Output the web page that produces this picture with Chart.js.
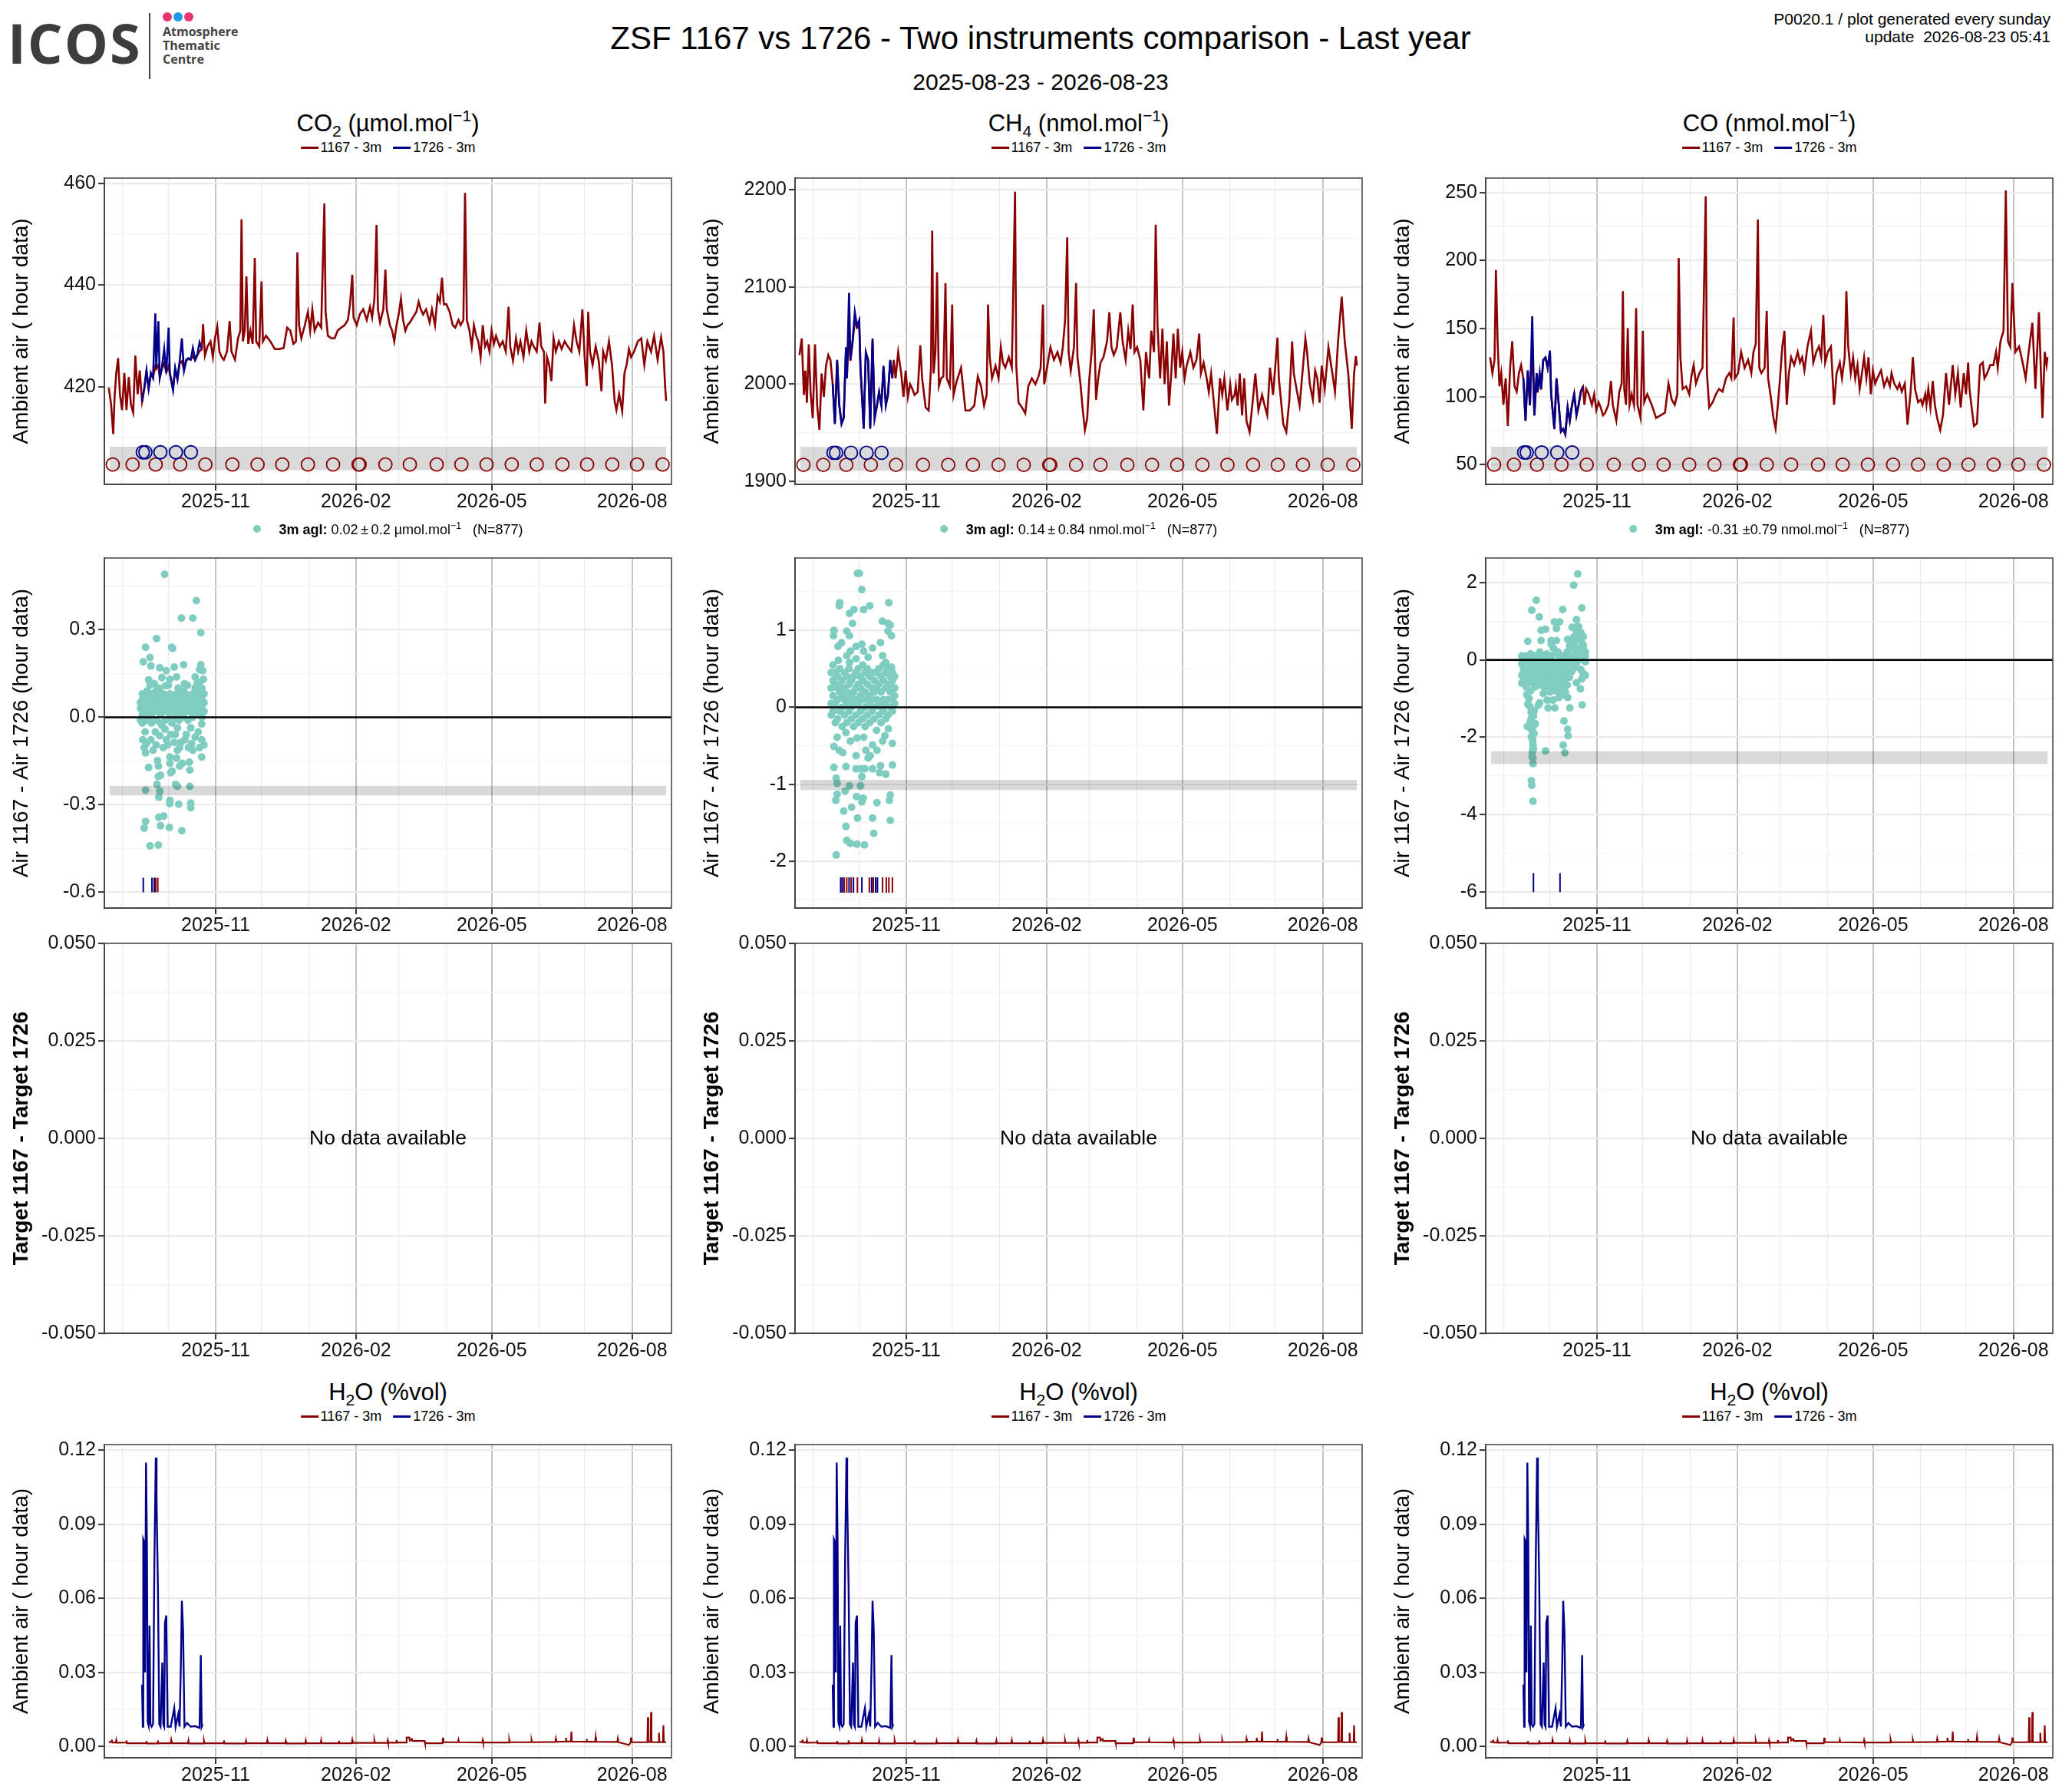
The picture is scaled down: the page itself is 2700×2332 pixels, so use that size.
<!DOCTYPE html>
<html><head><meta charset="utf-8"><title>ZSF 1167 vs 1726 - Two instruments comparison</title>
<script src="https://cdn.jsdelivr.net/npm/chart.js@4.4.1/dist/chart.umd.min.js"></script>
<style>
html,body{margin:0;padding:0;background:#fff}
body{width:2700px;height:2332px;position:relative;overflow:hidden;font-family:'Liberation Sans',Arial,Helvetica,sans-serif;color:#000}
.t{position:absolute;white-space:nowrap;transform:translate(-50%,-50%);line-height:1}
canvas{position:absolute}
sub,sup{font-size:68%;line-height:0;position:relative;vertical-align:baseline}
sub{top:0.32em} sup{top:-0.6em}
.key{display:inline-block;width:23px;height:3px;vertical-align:middle;margin-right:3px;position:relative;top:-1px}
.dot{display:inline-block;width:10px;height:10px;border-radius:50%;background:rgb(127,205,193);margin-right:24px;vertical-align:middle;position:relative;top:-2px}
</style></head><body>

<div style="position:absolute;left:10px;top:19px;font-family:'Open Sans',sans-serif;font-weight:700;font-size:72px;line-height:1;color:#3d3d3d;letter-spacing:2px">ICOS</div>
<div style="position:absolute;left:194px;top:17px;width:2px;height:86px;background:#444"></div>
<div style="position:absolute;left:212px;top:16px;width:12px;height:12px;border-radius:50%;background:#e8356d"></div>
<div style="position:absolute;left:226px;top:16px;width:12px;height:12px;border-radius:50%;background:#1e9be9"></div>
<div style="position:absolute;left:240px;top:16px;width:12px;height:12px;border-radius:50%;background:#e8356d"></div>
<div style="position:absolute;left:212px;top:32px;font-family:'Open Sans',sans-serif;font-weight:700;font-size:16px;line-height:18px;color:#444">Atmosphere<br>Thematic<br>Centre</div>

<div class="t" style="left:1356px;top:50px;font-size:42px">ZSF 1167 vs 1726 - Two instruments comparison - Last year</div>
<div class="t" style="left:1356px;top:107px;font-size:30px">2025-08-23 - 2026-08-23</div>
<div style="position:absolute;right:28px;top:13px;font-size:21px;line-height:23px;text-align:right">P0020.1 / plot generated every sunday<br>update&nbsp; 2026-08-23 05:41</div>

<script>
// ---------------- DATA ----------------
// time axis: days since 2025-08-23 (day 0)
const X_TICK_DAYS   = [9, 39, 70, 100, 131, 162, 190, 221, 251, 282, 312, 343];
const X_TICK_LABELS = ['', '', '2025-11', '', '', '2026-02', '', '', '2026-05', '', '', '2026-08'];

const DAYS_1167 = [
 0.0, 1.5, 2.9, 3.8, 4.9, 6.1, 7.3, 8.7, 10.2, 11.6,
 13.1, 14.5, 16.0, 17.4, 18.9, 20.3, 21.8, 23.2, 24.7, 26.1,
 27.6, 29.0, 30.5, 31.1, 32.5, 33.4, 34.8, 36.3, 37.7, 39.2,
 40.0, 42.1, 43.5, 45.0, 46.4, 47.9, 49.3, 50.8, 52.2, 53.7,
 55.1, 56.6, 58.0, 59.5, 60.9, 61.8, 63.0, 64.7, 66.7, 68.2,
 69.6, 71.1, 72.5, 74.0, 75.4, 77.5, 79.2, 80.4, 82.7, 84.7,
 86.2, 87.0, 87.9, 89.1, 90.2, 91.4, 92.8, 94.3, 95.7, 96.6,
 98.6, 100.1, 101.0, 103.0, 105.9, 108.8, 111.7, 114.6, 116.9, 119.0,
 121.0, 122.7, 123.6, 124.7, 126.2, 128.5, 130.5, 132.0, 133.4, 134.9,
 137.2, 139.2, 141.3, 142.1, 143.6, 145.9, 148.0, 150.0, 152.3, 154.6,
 156.7, 158.1, 159.6, 160.4, 162.5, 164.5, 166.8, 169.1, 171.2, 172.6,
 174.1, 175.5, 176.4, 177.8, 179.9, 181.3, 182.2, 184.2, 185.7, 187.1,
 188.6, 190.0, 191.5, 192.9, 194.4, 195.8, 197.3, 199.3, 201.6, 203.1,
 204.5, 206.0, 208.0, 210.3, 211.8, 213.8, 215.5, 217.0, 218.4, 219.6,
 221.3, 223.4, 225.4, 227.1, 229.2, 230.6, 232.4, 233.5, 234.7, 236.4,
 237.9, 239.3, 240.8, 242.2, 243.7, 245.1, 246.6, 248.0, 249.5, 250.9,
 252.4, 253.8, 256.2, 258.2, 260.2, 262.0, 263.1, 264.9, 266.9, 268.3,
 269.8, 271.8, 273.6, 275.6, 277.1, 278.5, 280.5, 282.3, 283.4, 285.2,
 286.0, 287.2, 288.6, 290.1, 291.5, 293.0, 295.0, 296.8, 298.8, 300.8,
 303.2, 304.9, 306.6, 308.4, 310.4, 311.9, 313.3, 314.2, 315.4, 317.1,
 319.1, 321.1, 322.9, 324.0, 325.8, 327.8, 329.8, 331.6, 332.7, 334.5,
 336.5, 338.0, 339.4, 340.9, 342.3, 344.3, 346.7, 349.0, 351.0, 353.0,
 355.4, 357.4, 359.7, 362.0, 363.5, 364.7, 365.3
];
const CO2_1167 = [
 419.8, 416.5, 410.7, 418.0, 422.7, 425.6, 418.5, 415.4, 422.7, 415.4,
 421.9, 416.5, 414.9, 426.1, 418.5, 423.2, 417.1, 419.5, 423.0, 419.8,
 422.5, 421.8, 424.0, 423.5, 424.2, 421.9, 423.5, 424.6, 422.8, 424.1,
 422.5, 419.6, 423.5, 421.6, 424.6, 425.0, 423.3, 425.1, 425.5, 425.3,
 426.0, 425.2, 426.2, 427.0, 427.3, 432.3, 426.1, 427.9, 428.9, 425.8,
 429.5, 431.8, 426.9, 425.8, 425.3, 426.9, 432.9, 426.9, 425.3, 429.5,
 431.0, 452.9, 428.9, 431.0, 441.7, 428.4, 431.0, 428.4, 445.3, 428.9,
 427.9, 440.7, 428.9, 430.0, 428.9, 427.4, 427.4, 427.6, 431.6, 431.0,
 428.4, 428.9, 446.4, 432.1, 429.5, 432.1, 434.7, 431.0, 435.2, 431.0,
 432.6, 431.6, 456.0, 434.7, 430.0, 429.5, 429.5, 431.0, 431.6, 432.1,
 433.1, 436.2, 442.0, 433.6, 432.1, 434.2, 435.2, 433.1, 435.7, 433.6,
 437.3, 451.8, 435.2, 432.6, 435.2, 443.0, 435.2, 432.1, 431.0, 428.9,
 432.1, 434.2, 437.3, 433.1, 431.0, 432.1, 432.6, 433.6, 434.7, 436.7,
 435.2, 434.2, 435.2, 432.6, 435.2, 432.1, 437.8, 436.7, 441.4, 436.2,
 436.2, 434.7, 432.1, 431.6, 433.1, 432.1, 433.1, 458.1, 433.1, 431.0,
 427.9, 432.1, 430.0, 428.9, 425.8, 432.1, 427.9, 428.9, 426.9, 431.0,
 428.4, 430.0, 427.9, 428.9, 426.9, 435.7, 427.9, 425.1, 429.5, 426.9,
 428.9, 425.8, 431.0, 426.9, 428.9, 427.9, 426.9, 432.6, 427.9, 426.9,
 416.7, 425.8, 424.3, 421.1, 429.5, 426.9, 428.9, 427.4, 428.9, 427.9,
 426.9, 432.1, 428.9, 426.9, 435.2, 425.8, 420.1, 434.7, 426.9, 424.3,
 427.9, 425.1, 419.1, 426.9, 425.1, 428.9, 424.3, 417.0, 415.4, 418.5,
 415.2, 422.7, 424.3, 427.4, 425.8, 426.9, 428.9, 429.5, 424.3, 428.9,
 426.9, 430.0, 425.3, 429.7, 426.9, 419.8, 417.2
];
const CH4_1167 = [
 2030, 2047, 1989, 2014, 1981, 2041, 1992, 1965, 2041, 1978,
 1953, 2011, 1987, 2019, 2030, 2025, 2000, 1960, 2024, 1979,
 1960, 1966, 2037, 2006, 2060, 2024, 2043, 2066, 2058, 2060,
 2017, 1956, 2032, 2025, 1956, 2045, 1966, 1978, 1992, 1979,
 2018, 1979, 1989, 2024, 2006, 2025, 2006, 2033, 2011, 1987,
 2014, 1987, 2000, 1995, 1989, 1992, 2040, 2006, 1976, 1973,
 2017, 2158, 2011, 2033, 2115, 1998, 2006, 2008, 2104, 2006,
 1998, 2082, 1989, 2003, 2017, 1973, 1973, 1978, 2008, 1998,
 1978, 1989, 2082, 2028, 2006, 2019, 2006, 2038, 2022, 2017,
 2028, 2017, 2198, 2019, 1981, 1976, 1970, 1998, 2006, 2000,
 2008, 2017, 2082, 2000, 2019, 2038, 2025, 2033, 2022, 2038,
 2066, 2151, 2033, 2014, 2038, 2104, 2028, 2000, 1973, 1953,
 1965, 2006, 2033, 2077, 1984, 2006, 2022, 2028, 2044, 2074,
 2038, 2030, 2038, 2074, 2044, 2025, 2055, 2036, 2082, 2033,
 2038, 2025, 1973, 2033, 2006, 2055, 2033, 2164, 2060, 2006,
 2057, 2000, 2044, 1978, 2011, 2052, 2006, 2057, 2017, 2033,
 2006, 2019, 2033, 2017, 2025, 2052, 2011, 2022, 2006, 1992,
 2011, 1978, 1949, 2006, 1989, 2006, 1973, 2000, 1984, 1989,
 1998, 1978, 2011, 1968, 2006, 1962, 1951, 1978, 2011, 1973,
 1989, 1978, 1968, 2017, 1989, 2019, 2048, 2006, 1987, 1959,
 1951, 1984, 2044, 2011, 1995, 1978, 2014, 2047, 2033, 2000,
 1984, 2014, 2006, 1981, 2019, 1995, 2038, 2014, 1992, 2044,
 2090, 2044, 2011, 1954, 2011, 2029, 2019
];
const CO_1167 = [
 128.9, 117.2, 127.0, 193.0, 140.6, 107.5, 117.2, 93.9, 113.4, 78.4,
 121.1, 140.6, 107.5, 103.6, 117.2, 123.1, 113.0, 82.0, 119.0, 93.5,
 140.0, 86.0, 117.0, 103.0, 117.0, 105.0, 126.5, 128.5, 121.0, 133.0,
 101.5, 76.0, 113.0, 93.5, 74.0, 76.0, 72.0, 92.0, 82.0, 94.0,
 102.0, 86.5, 94.0, 104.0, 107.0, 93.9, 105.6, 101.7, 93.9, 101.7,
 90.0, 95.9, 92.0, 86.2, 88.1, 93.9, 111.4, 93.9, 82.3, 103.6,
 109.5, 177.5, 105.6, 93.9, 150.3, 93.9, 101.7, 93.9, 164.9, 93.9,
 84.2, 148.3, 95.9, 101.7, 93.9, 84.2, 86.2, 88.1, 109.5, 97.8,
 93.9, 101.7, 201.8, 128.9, 105.6, 107.5, 101.7, 115.3, 123.1, 109.5,
 117.2, 121.1, 247.1, 117.2, 92.0, 95.9, 101.7, 105.6, 103.6, 113.4,
 117.2, 113.4, 158.1, 113.4, 117.2, 132.8, 121.1, 127.0, 117.2, 132.8,
 138.6, 230.0, 121.1, 117.2, 121.1, 162.9, 113.4, 97.8, 84.2, 76.4,
 93.9, 113.4, 136.7, 148.3, 93.9, 117.2, 128.9, 123.1, 132.8, 125.0,
 128.9, 119.2, 136.7, 148.3, 125.0, 132.8, 136.7, 128.9, 160.0, 125.0,
 132.8, 136.7, 93.9, 117.2, 125.0, 113.4, 128.9, 177.5, 136.7, 117.2,
 128.9, 113.4, 123.1, 105.6, 117.2, 128.9, 113.4, 128.9, 101.7, 119.2,
 109.5, 113.4, 119.2, 107.5, 113.4, 107.5, 117.2, 109.5, 105.6, 109.5,
 103.6, 109.5, 79.3, 103.6, 128.9, 105.6, 95.9, 97.8, 93.9, 101.7,
 93.9, 105.6, 92.0, 111.4, 93.9, 84.2, 75.5, 86.2, 117.2, 93.9,
 123.1, 101.7, 117.2, 92.0, 117.2, 101.7, 125.0, 105.6, 93.9, 78.4,
 80.3, 123.1, 125.0, 113.4, 117.2, 123.1, 123.1, 132.8, 121.1, 140.6,
 148.3, 251.4, 140.6, 136.7, 183.3, 132.8, 136.7, 125.0, 113.4, 132.8,
 154.2, 105.6, 161.9, 84.2, 132.8, 123.1, 128.9
];

const DAYS_1726 = [21.8, 23.2, 24.7, 26.1, 27.6, 29.0, 30.5, 31.1, 32.5, 33.4, 34.8, 36.3, 37.7, 39.2, 40.0,
 42.1, 43.5, 45.0, 46.4, 47.9, 49.3, 50.8, 52.2, 53.7, 55.1, 56.6, 58.0, 59.5, 60.9];
const CO2_1726 = [417.0, 419.6, 423.2, 419.6, 422.7, 421.7, 434.4, 423.7, 432.9, 421.7, 423.7, 427.4, 422.7, 431.6, 422.7,
 419.3, 423.7, 421.4, 424.8, 429.5, 423.2, 425.3, 425.6, 425.3, 427.6, 425.3, 426.3, 428.7, 427.4];
const CH4_1726 = [2000, 1959, 2025, 1978, 1959, 1965, 2038, 2006, 2094, 2025, 2044, 2074, 2060, 2066, 2017,
 1954, 2033, 2025, 1954, 2047, 1965, 1978, 1992, 1978, 2019, 1978, 1989, 2025, 2006];
const CO_1726 = [113.4, 82.3, 119.2, 93.9, 159.0, 86.2, 117.2, 103.6, 117.2, 105.6, 127.0, 128.9, 121.1, 133.8, 101.7,
 76.4, 113.4, 93.9, 74.5, 76.4, 72.5, 92.0, 82.3, 93.9, 101.7, 86.2, 93.9, 103.6, 107.5];

// calibration / reference circles (days) and their plotted levels
const CIRCLE_DAYS_1167 = [2.6, 15.6, 30.7, 46.8, 63.3, 81.0, 97.5, 113.7, 130.5, 147.0, 163.7, 164.4, 181.3,
 197.3, 214.9, 231.1, 247.6, 264.1, 280.5, 297.3, 313.5, 330.0, 346.2, 363.0];
const CIRCLE_DAYS_1726 = [22.3, 24.0, 33.8, 44.0, 53.8];
const CIRCLE_LEVEL_CO2 = [404.7, 407.1];
const CIRCLE_LEVEL_CH4 = [1917, 1929.4];
const CIRCLE_LEVEL_CO  = [50, 58.9];
const BAND_DAYS = [0.5, 365.3];
const BAND_CO2 = [403.6, 408.2];
const BAND_CH4 = [1911, 1935.4];
const BAND_CO  = [45.7, 63.2];

// differences 1167 - 1726 : [day, value]
const DIFF_CO2 = [
 [20.8,0.03],[20.8,-0.01],[20.8,0.05],[22.0,0.06],[22.0,0.01],[22.0,-0.02],[22.0,0.08],[23.5,0.04],[23.5,0.00],[23.5,0.07],
 [25.0,0.02],[25.0,0.05],[25.0,-0.01],[25.0,0.09],[26.5,0.06],[26.5,0.03],[26.5,0.00],[28.0,0.08],[28.0,0.04],[28.0,-0.02],
 [28.0,0.01],[29.5,0.05],[29.5,0.02],[29.5,0.07],[31.0,0.03],[31.0,0.09],[31.0,-0.01],[32.5,0.06],[32.5,0.02],[32.5,0.04],
 [34.0,0.01],[34.0,0.07],[34.0,-0.02],[34.0,0.04],[35.5,0.05],[35.5,0.02],[35.5,0.08],[37.0,0.03],[37.0,0.06],[37.0,-0.01],
 [38.5,0.07],[38.5,0.02],[38.5,0.04],[40.0,0.05],[40.0,0.00],[40.0,0.08],[41.5,0.03],[41.5,0.06],[41.5,-0.02],[43.0,0.07],
 [43.0,0.02],[43.0,0.04],[44.5,0.05],[44.5,0.00],[44.5,0.08],[46.0,0.03],[46.0,0.06],[46.0,-0.01],[47.5,0.07],[47.5,0.02],
 [47.5,0.05],[49.0,0.04],[49.0,0.09],[49.0,0.00],[50.5,0.06],[50.5,0.02],[50.5,0.08],[52.0,0.03],[52.0,0.05],[52.0,-0.01],
 [53.5,0.07],[53.5,0.02],[53.5,0.05],[55.0,0.04],[55.0,0.08],[55.0,0.00],[56.5,0.06],[56.5,0.02],[56.5,0.10],[58.0,0.04],
 [58.0,0.07],[58.0,0.01],[59.5,0.09],[59.5,0.05],[59.5,0.02],[59.5,0.12],[61.0,0.06],[61.0,0.10],[61.0,0.03],[61.0,0.00],
 [62.4,0.05],[62.4,0.08],[62.4,0.02],
 [27.0,0.11],[33.0,0.10],[39.0,0.11],[45.5,0.10],[51.5,0.11],[62.0,0.13],[61.5,0.16],
 [36.6,0.49],[57.4,0.40],[47.6,0.34],[55.1,0.34],[60.3,0.29],[31.3,0.27],[24.1,0.24],[41.2,0.24],[41.8,0.236],
 [22.6,0.19],[27.0,0.205],[27.6,0.176],[33.4,0.17],[37.7,0.16],[42.9,0.172],[49.0,0.18],[60.3,0.18],[59.5,0.163],
 [26.1,0.128],[34.8,0.136],[40.0,0.13],[44.4,0.138],[56.6,0.138],[29.9,0.115],[37.1,0.108],[49.6,0.115],[58.0,0.117],
 [24.1,-0.122],[26.1,-0.172],[31.9,-0.149],[32.5,-0.167],[40.0,-0.158],[40.0,-0.136],[44.4,-0.14],[46.4,-0.167],
 [48.2,-0.158],[52.8,-0.154],[53.1,-0.181],[60.9,-0.136],[40.6,-0.19],[41.5,-0.185],[32.5,-0.203],[33.9,-0.199],
 [31.6,-0.23],[43.8,-0.23],[45.0,-0.237],[53.1,-0.237],[24.1,-0.25],[33.4,-0.253],[32.8,-0.274],[40.0,-0.285],
 [40.0,-0.296],[45.8,-0.298],[53.7,-0.294],[53.7,-0.31],[32.8,-0.343],[36.0,-0.339],[24.1,-0.357],[23.2,-0.38],
 [33.9,-0.372],[39.7,-0.378],[47.9,-0.389],[27.0,-0.441],[32.5,-0.438],
 [22.3,-0.077],[24.7,-0.090],[27.6,-0.077],[31.0,-0.095],[33.4,-0.063],[35.7,-0.104],[37.7,-0.077],[40.6,-0.059],
 [42.9,-0.086],[45.0,-0.113],[47.3,-0.086],[49.9,-0.077],[52.2,-0.104],[54.3,-0.090],[56.6,-0.068],[58.6,-0.050],
 [60.9,-0.077],[62.4,-0.095],[23.2,-0.104],[29.0,-0.113],[36.8,-0.041],[38.6,-0.095],[43.5,-0.059],[46.4,-0.104],
 [50.8,-0.059],[55.1,-0.113],[59.5,-0.104],[23.8,-0.050],[30.5,-0.050],[34.8,-0.027],[45.0,-0.036],[53.7,-0.036],[60.9,-0.023]
];
const DIFF_CH4 = [
 [20.8,0.25],[20.8,0.05],[20.8,0.45],[20.8,-0.10],[22.0,0.15],[22.0,0.35],[22.0,-0.05],[22.0,0.55],
 [23.5,0.30],[23.5,0.05],[23.5,-0.20],[23.5,0.45],[25.0,0.10],[25.0,0.40],[25.0,-0.15],[25.0,0.25],
 [26.5,0.20],[26.5,-0.05],[26.5,0.50],[26.5,0.30],[28.0,0.35],[28.0,0.00],[28.0,-0.25],[28.0,0.15],
 [29.5,0.45],[29.5,0.10],[29.5,-0.10],[29.5,0.25],[31.0,0.20],[31.0,-0.20],[31.0,0.40],[31.0,0.05],
 [32.5,0.30],[32.5,0.10],[32.5,-0.05],[32.5,0.50],[34.0,0.15],[34.0,-0.15],[34.0,0.35],[34.0,0.00],
 [35.5,0.40],[35.5,0.20],[35.5,-0.25],[35.5,0.05],[37.0,0.25],[37.0,-0.10],[37.0,0.45],[37.0,0.10],
 [38.5,0.30],[38.5,0.05],[38.5,-0.20],[38.5,0.50],[40.0,0.15],[40.0,0.40],[40.0,-0.05],[40.0,0.25],
 [41.5,0.35],[41.5,-0.15],[41.5,0.10],[41.5,0.55],[43.0,0.20],[43.0,0.00],[43.0,0.45],[43.0,-0.25],
 [44.5,0.30],[44.5,0.10],[44.5,-0.10],[44.5,0.50],[46.0,0.15],[46.0,0.40],[46.0,-0.20],[46.0,0.05],
 [47.5,0.25],[47.5,-0.05],[47.5,0.45],[47.5,0.10],[49.0,0.35],[49.0,0.00],[49.0,-0.15],[49.0,0.20],
 [50.5,0.10],[50.5,0.45],[50.5,-0.30],[50.5,0.25],[52.0,0.30],[52.0,0.05],[52.0,-0.10],[52.0,0.50],
 [53.5,0.20],[53.5,0.40],[53.5,-0.20],[53.5,0.00],[55.0,0.35],[55.0,0.10],[55.0,0.55],[55.0,-0.05],
 [56.5,0.25],[56.5,-0.15],[56.5,0.45],[56.5,0.05],[58.0,0.30],[58.0,0.10],[58.0,0.50],[58.0,-0.10],
 [59.5,0.20],[59.5,0.40],[59.5,0.00],[59.5,0.30],[61.0,0.35],[61.0,0.10],[61.0,0.45],[61.0,-0.05],
 [62.4,0.25],[62.4,0.05],[62.4,0.40],[62.4,0.15],
 [38.0,1.74],[39.2,1.74],[40.9,1.53],[26.4,1.36],[26.1,1.32],[58.6,1.36],[46.1,1.32],[42.1,1.27],[35.7,1.27],
 [32.8,1.22],[54.3,1.12],[58.0,1.09],[59.5,1.07],[34.8,1.09],[22.6,1.00],[22.3,0.93],[31.0,0.99],[32.8,0.93],
 [58.0,0.99],[60.3,0.93],[27.6,0.84],[25.2,0.79],[37.1,0.79],[40.9,0.82],[42.1,0.73],[47.9,0.77],[53.1,0.84],
 [33.4,0.73],[31.0,0.67],[37.1,0.63],[25.5,0.61],[45.0,0.65],[54.5,0.67],[32.8,0.58],[56.6,0.58],[60.3,0.52],
 [60.9,-0.47],[22.6,-0.51],[26.1,-0.56],[28.4,-0.59],[24.7,-0.39],[30.5,-0.33],[33.4,-0.44],[37.7,-0.40],
 [42.1,-0.39],[43.5,-0.56],[45.0,-0.66],[46.4,-0.63],[47.9,-0.49],[50.8,-0.56],[54.5,-0.44],[56.0,-0.37],
 [58.3,-0.28],[37.1,-0.63],[22.6,-0.78],[30.5,-0.77],[37.1,-0.80],[40.6,-0.80],[42.9,-0.80],[47.9,-0.80],
 [52.5,-0.85],[56.6,-0.87],[53.1,-0.76],[60.9,-0.75],[24.1,-0.92],[40.9,-0.90],[24.7,-0.99],[32.8,-1.02],
 [40.0,-1.02],[29.9,-1.09],[24.7,-1.13],[37.4,-1.16],[41.8,-1.18],[59.5,-1.14],[23.8,-1.21],[40.9,-1.23],
 [50.8,-1.24],[58.9,-1.21],[34.2,-1.30],[29.0,-1.35],[38.0,-1.44],[47.9,-1.44],[59.5,-1.47],[30.5,-1.55],
 [48.7,-1.64],[31.0,-1.73],[33.4,-1.77],[37.7,-1.78],[42.6,-1.79],[24.1,-1.92]
];
const DIFF_CO = [
 [20.8,-0.10],[20.8,-0.40],[20.8,0.10],[20.8,-0.60],[22.0,-0.30],[22.0,0.05],[22.0,-0.55],[22.0,-0.20],
 [23.5,-0.15],[23.5,-0.45],[23.5,0.10],[23.5,-0.70],[25.0,-0.35],[25.0,-0.05],[25.0,-0.60],[25.0,-0.20],
 [26.5,-0.50],[26.5,-0.10],[26.5,-0.80],[26.5,0.15],[28.0,-0.25],[28.0,-0.60],[28.0,0.00],[28.0,-0.40],
 [29.5,-0.45],[29.5,-0.15],[29.5,-0.70],[29.5,0.10],[31.0,-0.20],[31.0,-0.55],[31.0,0.05],[31.0,-0.35],
 [32.5,-0.40],[32.5,-0.10],[32.5,-0.65],[32.5,0.20],[34.0,-0.15],[34.0,-0.50],[34.0,0.10],[34.0,-0.30],
 [35.5,-0.45],[35.5,-0.05],[35.5,-0.70],[35.5,-0.25],[37.0,-0.20],[37.0,-0.60],[37.0,0.15],[37.0,-0.35],
 [38.5,-0.40],[38.5,-0.10],[38.5,-0.65],[38.5,0.05],[40.0,-0.25],[40.0,-0.55],[40.0,0.10],[40.0,0.40],
 [41.5,-0.35],[41.5,-0.05],[41.5,-0.70],[41.5,0.30],[43.0,-0.20],[43.0,-0.50],[43.0,0.15],[43.0,-0.80],
 [44.5,-0.40],[44.5,-0.10],[44.5,-0.65],[44.5,0.20],[46.0,-0.30],[46.0,-0.60],[46.0,0.05],[46.0,-0.85],
 [47.5,-0.45],[47.5,-0.15],[47.5,-0.70],[47.5,0.10],[49.0,-0.25],[49.0,-0.55],[49.0,0.00],[49.0,-0.90],
 [50.5,-0.35],[50.5,-0.05],[50.5,-0.65],[50.5,0.20],[52.0,-0.15],[52.0,0.10],[52.0,-0.45],[52.0,0.35],
 [53.5,0.00],[53.5,0.30],[53.5,-0.30],[53.5,0.50],[55.0,0.10],[55.0,0.40],[55.0,-0.20],[55.0,0.60],
 [56.5,0.20],[56.5,0.55],[56.5,-0.10],[56.5,0.75],[58.0,0.30],[58.0,0.65],[58.0,0.00],[58.0,0.85],
 [59.5,0.15],[59.5,0.50],[59.5,-0.25],[59.5,0.70],[61.0,0.05],[61.0,0.35],[61.0,-0.35],[61.0,0.60],
 [62.4,-0.05],[62.4,0.20],[62.4,-0.40],[62.4,0.10],
 [57.4,2.22],[54.8,1.93],[30.2,1.54],[60.1,1.34],[27.3,1.28],[47.6,1.30],[32.2,1.11],[45.5,0.98],[42.1,0.98],
 [43.5,0.81],[36.3,0.79],[33.4,0.76],[56.6,1.04],[57.4,0.87],[53.7,0.84],[58.9,0.67],[24.7,0.48],[33.4,0.50],
 [40.0,0.50],[43.5,0.50],[50.8,0.53],[54.5,0.46],[60.9,0.40],
 [24.7,-1.14],[38.0,-1.24],[42.4,-1.24],[60.3,-1.16],[37.4,-1.04],[41.2,-1.04],[48.4,-1.58],[50.8,-1.79],
 [51.1,-1.96],[47.9,-2.20],[49.0,-2.40],[36.3,-2.35],[24.4,-1.72],[27.0,-1.99],[28.1,-2.20],[27.6,-2.40],
 [28.1,-2.54],[28.1,-2.68],[27.0,-3.12],[27.3,-3.24],[28.1,-3.65],[26.4,-1.58],[28.4,-1.45],[29.0,-1.31],
 [29.6,-1.65],[27.3,-1.82],[27.9,-2.10],[28.4,-2.30],[31.6,-1.17],[32.5,-1.11],[59.2,-0.75],[60.1,-0.49],
 [56.6,-0.59],[47.9,-0.90],[45.0,-0.97],[46.4,-0.80],[49.3,-0.83],[50.8,-0.97],[52.2,-1.24],[34.8,-0.87],
 [39.2,-0.83],[24.0,-0.90],[25.5,-1.00],[26.0,-1.20],[26.8,-1.35],[27.2,-1.50],[28.5,-1.70],[28.8,-1.90],
 [27.8,-2.05],[28.0,-2.30],[27.5,-2.50]
];
const DIFF_BAND_CO2 = [-0.268, -0.235];
const DIFF_BAND_CH4 = [-1.076, -0.943];
const DIFF_BAND_CO  = [-2.69, -2.36];
// event rug marks (days) and their vertical extent
const RUG_CO2_1726 = [22.6, 28.3, 29.8];
const RUG_CO2_1167 = [30.7, 32.1];
const RUG_CH4_1726 = [27.0, 28.1, 32.5, 35.4, 40.9, 47.3, 49.9, 51.1];
const RUG_CH4_1167 = [29.3, 31.0, 33.9, 38.0, 45.8, 48.4, 54.5, 56.9, 58.6, 60.9];
const RUG_CO_1726  = [28.4, 45.8];
const RUG_CO_1167  = [];
const RUG_SPAN_CO2 = [-0.60, -0.55];
const RUG_SPAN_CH4 = [-2.41, -2.21];
const RUG_SPAN_CO  = [-6.00, -5.51];

// H2O (%vol)
const H2O_DAYS_1167 = [
 0, 1.7, 2.0, 2.3, 4.6, 4.9, 5.2, 11.3, 11.6, 11.9,
 24.4, 24.7, 25.0, 31.9, 32.2, 32.5, 40.6, 40.9, 41.2, 51.9,
 52.2, 52.5, 62.1, 62.4, 62.7, 75.1, 75.4, 75.7, 89.6, 89.9,
 90.2, 103.6, 103.9, 104.2, 115.7, 116.0, 116.3, 128.8, 129.1, 129.4,
 138.9, 139.2, 139.5, 150.6, 150.9, 151.2, 159.3, 159.6, 159.9, 173.8,
 174.1, 174.4, 182.5, 182.8, 183.1, 188.3, 188.6, 188.9, 195.0, 195.2,
 197.0, 197.3, 198.7, 199.0, 207.0, 207.3, 218.7, 219.0, 219.3, 228.9,
 229.2, 229.5, 244.8, 245.1, 245.4, 262.2, 262.5, 262.8, 276.8, 277.1,
 277.4, 292.7, 293.0, 293.3, 299.4, 299.7, 300.0, 302.9, 303.2, 303.5,
 313.0, 313.3, 313.6, 318.8, 319.1, 319.4, 333.3, 333.6, 333.9, 340.9,
 342.0, 342.3, 342.6, 353.0, 353.3, 353.6, 355.1, 355.4, 355.7, 360.3,
 360.6, 360.9, 363.2, 363.5, 363.8, 365.3
];
const H2O_1167 = [
 0.0018, 0.0018, 0.0027, 0.0016, 0.0016, 0.0025, 0.0015, 0.0016, 0.0024, 0.0013,
 0.0013, 0.0022, 0.0012, 0.0012, 0.0024, 0.0013, 0.0013, 0.0025, 0.0013, 0.0013,
 0.0023, 0.0012, 0.0012, 0.0022, 0.0013, 0.0013, 0.0024, 0.0012, 0.0012, 0.0022,
 0.0013, 0.0013, 0.0024, 0.0013, 0.0013, 0.0022, 0.0012, 0.0012, 0.0023, 0.0013,
 0.0013, 0.0024, 0.0013, 0.0013, 0.0023, 0.0013, 0.0013, 0.0025, 0.0014, 0.0014,
 0.0023, 0.0014, 0.0014, 0.0024, 0.0015, 0.0015, 0.0026, 0.0016, 0.0016, 0.0036,
 0.0036, 0.0024, 0.0030, 0.0022, 0.0022, 0.0013, 0.0013, 0.0035, 0.0017, 0.0017,
 0.0026, 0.0017, 0.0016, 0.0025, 0.0016, 0.0016, 0.0026, 0.0017, 0.0017, 0.0025,
 0.0017, 0.0018, 0.0030, 0.0019, 0.0020, 0.0035, 0.0020, 0.0020, 0.0060, 0.0020,
 0.0019, 0.0030, 0.0019, 0.0019, 0.0037, 0.0019, 0.0018, 0.0030, 0.0017, 0.0006,
 0.0016, 0.0036, 0.0017, 0.0017, 0.0118, 0.0018, 0.0018, 0.0139, 0.0017, 0.0017,
 0.0055, 0.0017, 0.0017, 0.0085, 0.0017, 0.0017
];
const H2O_DAYS_1726 = [21.8, 22.3, 22.6, 23.2, 23.8, 24.4, 25.0, 25.5, 26.1, 26.7, 27.3, 28.1, 29.0, 29.9, 30.8,
 31.3, 32.2, 33.1, 33.9, 35.1, 35.7, 36.3, 36.8, 37.7, 38.6, 40.6, 42.9, 43.8, 45.5, 46.4, 47.3, 47.9, 48.7,
 49.6, 51.3, 53.7, 56.6, 59.5, 60.3, 60.9, 61.5];
const H2O_1726 = [0.0250, 0.0080, 0.0840, 0.0830, 0.0300, 0.1150, 0.0820, 0.0100, 0.0085, 0.0490, 0.0090, 0.0080,
 0.0090, 0.0750, 0.1170, 0.1000, 0.0650, 0.0090, 0.0080, 0.0340, 0.0090, 0.0080, 0.0500, 0.0530, 0.0080, 0.0080,
 0.0155, 0.0080, 0.0130, 0.0080, 0.0350, 0.0590, 0.0470, 0.0080, 0.0095, 0.0080, 0.0082, 0.0075, 0.0370, 0.0080, 0.0090];

// y-axis ticks (major ticks labelled, minor ticks blank)
const Y_CO2 = [410, 420, 430, 440, 450, 460];           const Y_CO2_L = ['', '420', '', '440', '', '460'];
const Y_CH4 = [1900, 1950, 2000, 2050, 2100, 2150, 2200]; const Y_CH4_L = ['1900', '', '2000', '', '2100', '', '2200'];
const Y_CO  = [50, 75, 100, 125, 150, 175, 200, 225, 250]; const Y_CO_L = ['50', '', '100', '', '150', '', '200', '', '250'];
const Y_DCO2 = [-0.6, -0.45, -0.3, -0.15, 0, 0.15, 0.3, 0.45]; const Y_DCO2_L = ['-0.6', '', '-0.3', '', '0.0', '', '0.3', ''];
const Y_DCH4 = [-2.5, -2, -1.5, -1, -0.5, 0, 0.5, 1, 1.5];   const Y_DCH4_L = ['', '-2', '', '-1', '', '0', '', '1', ''];
const Y_DCO  = [-6, -5, -4, -3, -2, -1, 0, 1, 2];            const Y_DCO_L = ['-6', '', '-4', '', '-2', '', '0', '', '2'];
const Y_TGT  = [-0.05, -0.0375, -0.025, -0.0125, 0, 0.0125, 0.025, 0.0375, 0.05];
const Y_TGT_L = ['-0.050', '', '-0.025', '', '0.000', '', '0.025', '', '0.050'];
const Y_H2O  = [0, 0.015, 0.03, 0.045, 0.06, 0.075, 0.09, 0.105, 0.12];
const Y_H2O_L = ['0.00', '', '0.03', '', '0.06', '', '0.09', '', '0.12'];

// ---------------- LAYOUT / STYLE ----------------
const RED = '#8B0000', BLUE = '#00008B', TEAL = 'rgb(127,205,193)';
const BAND_COLOR = 'rgba(0,0,0,0.15)';
const X_MIN = -2.9, X_MAX = 368.8;
const COLS = [0, 900, 1800];
const ROWS = [{top:229.5,bottom:630},{top:725.3,bottom:1183.4},{top:1226.5,bottom:1736.5},{top:1880,bottom:2289.5}];
const PAD_T = 16, XAX_H = 48, YAX_W = 136, PAD_R = 25;
Chart.defaults.font.family = "'Liberation Sans', Arial, Helvetica, sans-serif";

const xy = (xs, ys) => xs.map((x, i) => ({x: x, y: ys[i]}));
const pairs = arr => arr.map(p => ({x: p[0], y: p[1]}));
const level = (xs, y) => xs.map(x => ({x: x, y: y}));
const rug = (xs, span) => { const o = []; xs.forEach(x => { o.push({x:x,y:span[0]},{x:x,y:span[1]},{x:x,y:null}); }); return o; };

const frame = {id:'frame', afterDatasetsDraw(chart){
  const a = chart.chartArea, ctx = chart.ctx;
  ctx.save(); ctx.strokeStyle = '#4d4d4d'; ctx.lineWidth = 1.6;
  ctx.strokeRect(a.left, a.top, a.right - a.left, a.bottom - a.top); ctx.restore();
}};

function makePanel(col, row, yTicks, yLabels, yMin, yMax, yTitle, bold, datasets){
  const r = ROWS[row];
  const h = Math.round(r.bottom - r.top) + PAD_T + XAX_H;
  const cv = document.createElement('canvas');
  cv.width = 900; cv.height = h;
  cv.style.left = COLS[col] + 'px'; cv.style.top = (Math.round(r.top) - PAD_T) + 'px';
  cv.style.width = '900px'; cv.style.height = h + 'px';
  document.body.appendChild(cv);
  const majX = v => { const i = X_TICK_DAYS.indexOf(v); return i >= 0 && X_TICK_LABELS[i] !== ''; };
  const majY = v => { const i = yTicks.indexOf(v); return i >= 0 && yLabels[i] !== ''; };
  new Chart(cv, {
    type: 'line',
    data: {datasets: datasets},
    options: {
      responsive: false, animation: false, devicePixelRatio: 1, events: [],
      layout: {padding: {top: PAD_T, right: PAD_R, left: 0, bottom: 0}},
      plugins: {legend: {display: false}, tooltip: {enabled: false}},
      elements: {line: {tension: 0}},
      scales: {
        x: {type: 'linear', min: X_MIN, max: X_MAX,
          afterBuildTicks: s => { s.ticks = X_TICK_DAYS.map(v => ({value: v})); },
          afterFit: s => { s.height = XAX_H; },
          ticks: {autoSkip: false, maxRotation: 0, minRotation: 0, padding: 0, color: '#111', font: {size: 25},
            callback: v => { const i = X_TICK_DAYS.indexOf(v); return i >= 0 ? X_TICK_LABELS[i] : ''; }},
          grid: {color: c => majX(c.tick && c.tick.value) ? '#c4c4c4' : '#ebebeb',
                 lineWidth: c => majX(c.tick && c.tick.value) ? 2 : 1.2,
                 tickColor: c => majX(c.tick && c.tick.value) ? '#333' : 'rgba(0,0,0,0)',
                 tickLength: 8, tickWidth: 2},
          border: {display: true, color: '#333', width: 2}
        },
        y: {type: 'linear', min: yMin, max: yMax,
          afterBuildTicks: s => { s.ticks = yTicks.map(v => ({value: v})); },
          afterFit: s => { s.width = YAX_W; },
          ticks: {autoSkip: false, padding: 3, color: '#111', font: {size: 25},
            callback: v => { const i = yTicks.indexOf(v); return i >= 0 ? yLabels[i] : ''; }},
          grid: {color: c => majY(c.tick && c.tick.value) ? '#ebebeb' : '#f3f3f3',
                 lineWidth: c => majY(c.tick && c.tick.value) ? 2.2 : 1.2,
                 tickColor: c => majY(c.tick && c.tick.value) ? '#333' : 'rgba(0,0,0,0)',
                 tickLength: 8, tickWidth: 2},
          border: {display: true, color: '#333', width: 2},
          title: {display: true, text: yTitle, color: '#000', padding: {top: 11, bottom: 0},
                  font: {size: 28, weight: bold ? 'bold' : 'normal'}}
        }
      }
    },
    plugins: [frame]
  });
}

function bandSet(span, order){
  return {data: level(BAND_DAYS, span[1]), fill: {value: span[0]}, backgroundColor: BAND_COLOR,
          borderColor: 'rgba(0,0,0,0)', borderWidth: 0, pointRadius: 0, order: order};
}
function lineSet(data, color, w, order){
  return {data: data, borderColor: color, borderWidth: w, pointRadius: 0, fill: false, spanGaps: false, order: order};
}
function circleSet(days, y, color, order){
  return {data: level(days, y), showLine: false, pointRadius: 8.5, pointBorderWidth: 1.8,
          pointBorderColor: color, pointBackgroundColor: 'rgba(0,0,0,0)', order: order};
}
function topSets(d67, d26, circ, band){
  return [bandSet(band, 10), lineSet(d67, RED, 2.6, 5), lineSet(d26, BLUE, 2.6, 4),
          circleSet(CIRCLE_DAYS_1167, circ[0], RED, 2), circleSet(CIRCLE_DAYS_1726, circ[1], BLUE, 1)];
}
function diffSets(diff, band, rugB, rugR, span){
  return [
    {data: pairs(diff), showLine: false, pointRadius: 5, pointBackgroundColor: TEAL, pointBorderColor: TEAL, pointBorderWidth: 0, order: 10},
    bandSet(band, 6),
    lineSet([{x: X_MIN, y: 0}, {x: X_MAX, y: 0}], '#000', 2.5, 3),
    lineSet(rug(rugB, span), BLUE, 2, 2),
    lineSet(rug(rugR, span), RED, 2, 1)
  ];
}

// ---- Row 1: ambient air
makePanel(0, 0, Y_CO2, Y_CO2_L, 400.8, 461.0, 'Ambient air ( hour data)', false,
  topSets(xy(DAYS_1167, CO2_1167), xy(DAYS_1726, CO2_1726), CIRCLE_LEVEL_CO2, BAND_CO2));
makePanel(1, 0, Y_CH4, Y_CH4_L, 1897, 2212, 'Ambient air ( hour data)', false,
  topSets(xy(DAYS_1167, CH4_1167), xy(DAYS_1726, CH4_1726), CIRCLE_LEVEL_CH4, BAND_CH4));
makePanel(2, 0, Y_CO, Y_CO_L, 35.5, 260.5, 'Ambient air ( hour data)', false,
  topSets(xy(DAYS_1167, CO_1167), xy(DAYS_1726, CO_1726), CIRCLE_LEVEL_CO, BAND_CO));
// ---- Row 2: differences
makePanel(0, 1, Y_DCO2, Y_DCO2_L, -0.654, 0.546, 'Air 1167 - Air 1726 (hour data)', false,
  diffSets(DIFF_CO2, DIFF_BAND_CO2, RUG_CO2_1726, RUG_CO2_1167, RUG_SPAN_CO2));
makePanel(1, 1, Y_DCH4, Y_DCH4_L, -2.61, 1.94, 'Air 1167 - Air 1726 (hour data)', false,
  diffSets(DIFF_CH4, DIFF_BAND_CH4, RUG_CH4_1726, RUG_CH4_1167, RUG_SPAN_CH4));
makePanel(2, 1, Y_DCO, Y_DCO_L, -6.41, 2.63, 'Air 1167 - Air 1726 (hour data)', false,
  diffSets(DIFF_CO, DIFF_BAND_CO, RUG_CO_1726, RUG_CO_1167, RUG_SPAN_CO));
// ---- Row 3: target (no data)
for (let c = 0; c < 3; c++) makePanel(c, 2, Y_TGT, Y_TGT_L, -0.05, 0.05, 'Target 1167 - Target 1726', true, []);
// ---- Row 4: H2O
for (let c = 0; c < 3; c++) makePanel(c, 3, Y_H2O, Y_H2O_L, -0.0046, 0.1223, 'Ambient air ( hour data)', false,
  [lineSet(xy(H2O_DAYS_1167, H2O_1167), RED, 2.2, 5), lineSet(xy(H2O_DAYS_1726, H2O_1726), BLUE, 2.4, 4)]);

// ---------------- TEXT ----------------
const PANEL_TITLES = ['CO<sub>2</sub> (&micro;mol.mol<sup>&minus;1</sup>)', 'CH<sub>4</sub> (nmol.mol<sup>&minus;1</sup>)', 'CO (nmol.mol<sup>&minus;1</sup>)'];
const H2O_TITLE = 'H<sub>2</sub>O (%vol)';
const STATS = ['0.02&thinsp;&plusmn;&thinsp;0.2 &micro;mol.mol<sup>&minus;1</sup>', '0.14&thinsp;&plusmn;&thinsp;0.84 nmol.mol<sup>&minus;1</sup>', '-0.31 &plusmn;0.79 nmol.mol<sup>&minus;1</sup>'];
const N_POINTS = 877;
function addText(html, x, y, size){
  const d = document.createElement('div'); d.className = 't';
  d.style.left = x + 'px'; d.style.top = y + 'px'; d.style.fontSize = size + 'px';
  d.innerHTML = html; document.body.appendChild(d); return d;
}
const LEGEND = '<span class="key" style="background:' + RED + '"></span>1167 - 3m&nbsp;&nbsp;&nbsp;<span class="key" style="background:' + BLUE + '"></span>1726 - 3m';
for (let c = 0; c < 3; c++) {
  const cx = COLS[c] + 505.5;
  addText(PANEL_TITLES[c], cx, 160, 31);
  addText(LEGEND, cx, 192, 18);
  addText('<span class="dot"></span><b>3m agl:</b> ' + STATS[c] + '&nbsp;&nbsp;&nbsp;(N=' + N_POINTS + ')', cx, 690, 18);
  addText('No data available', cx, 1482, 26.5);
  addText(H2O_TITLE, cx, 1813, 31);
  addText(LEGEND, cx, 1845, 18);
}
</script>
</body></html>
